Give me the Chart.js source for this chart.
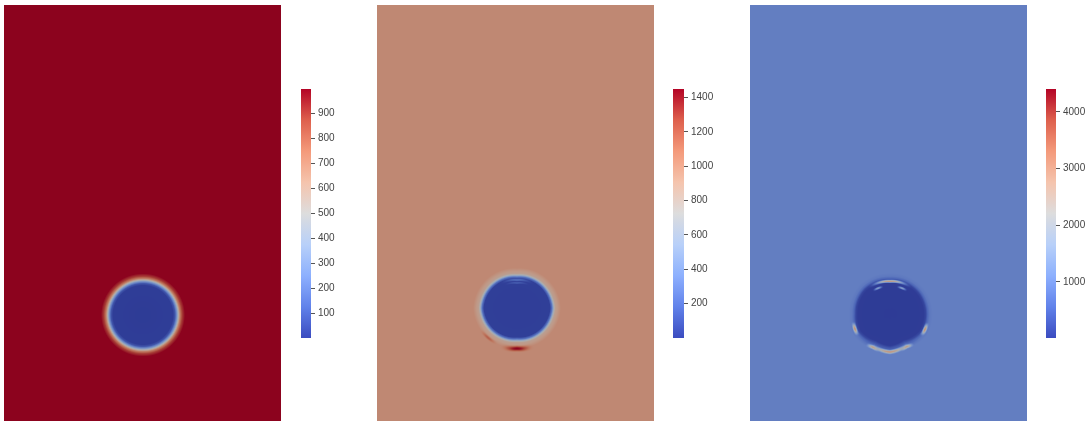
<!DOCTYPE html>
<html>
<head>
<meta charset="utf-8">
<script src="https://cdn.jsdelivr.net/npm/chart.js@4.4.1/dist/chart.umd.min.js"></script>
<style>
  body { margin: 0; background: #fff; width: 1090px; height: 423px; position: relative; overflow: hidden; }
  canvas { position: absolute; }
</style>
</head>
<body>
<canvas id="field1" width="277" height="416" style="left:4px;top:5px"></canvas>
<canvas id="bar1" width="50" height="270" style="left:300px;top:80px"></canvas>
<canvas id="field2" width="277" height="416" style="left:377px;top:5px"></canvas>
<canvas id="bar2" width="56" height="270" style="left:672px;top:80px"></canvas>
<canvas id="field3" width="277" height="416" style="left:750px;top:5px"></canvas>
<canvas id="bar3" width="44" height="270" style="left:1045px;top:80px"></canvas>
<script>
// domain of every panel (same units for all three)
const domainX = [0, 2.77];
const domainY = [0, 4.16];

// colour bar ranges and tick labels
const range1 = [0, 997];
const ticks1 = [100, 200, 300, 400, 500, 600, 700, 800, 900];
const range2 = [0, 1450];
const ticks2 = [200, 400, 600, 800, 1000, 1200, 1400];
const range3 = [10, 4404];
const ticks3 = [1000, 2000, 3000, 4000];

// panel 1: bubble centre, boundary radius by angle, value across the boundary
const center1 = [1.39, 1.06];
const angles1 = [0, 90, 180, 270, 360];
const radii1 = [0.34, 0.335, 0.34, 0.335, 0.34];
const dist1 = [-0.4, -0.04, -0.02, 0, 0.015, 0.03, 0.05, 0.08];
const values1 = [0, 5, 80, 300, 520, 730, 890, 997];
const bands1 = [];

// panel 2
const center2 = [1.40, 1.13];
const angles2 = [0, 45, 90, 135, 180, 225, 270, 315, 360];
const radii2 = [0.36, 0.34, 0.32, 0.34, 0.36, 0.34, 0.32, 0.34, 0.36];
const dist2 = [-0.4, -0.03, -0.01, 0.01, 0.025, 0.05, 0.08];
const values2 = [10, 15, 250, 700, 860, 920, 1000];
// bands: [angle, angle half-span, distance, distance half-span, peak value]
const bands2 = [
  [270, 24, 0.085, 0.04, 1450],
  [226, 16, 0.075, 0.025, 1180],
  [90, 35, -0.04, 0.02, 220],
  [90, 30, -0.07, 0.015, 150]
];

// panel 3
const center3 = [1.40, 1.07];
const angles3 = [0, 37, 90, 135, 180, 210, 243, 270, 297, 330, 360];
const radii3 = [0.367, 0.364, 0.347, 0.36, 0.35, 0.364, 0.333, 0.35, 0.326, 0.367, 0.367];
const dist3 = [-0.4, -0.03, -0.01, 0.01, 0.03, 0.06];
const values3 = [10, 20, 150, 600, 850, 930];
const bands3 = [
  [270, 70, 0.01, 0.05, 450],
  [90, 40, -0.02, 0.022, 2800],
  [65, 12, -0.07, 0.018, 1500],
  [115, 12, -0.07, 0.018, 1500],
  [203, 12, 0.02, 0.028, 2900],
  [336, 12, 0.015, 0.028, 2900],
  [270, 40, 0.03, 0.03, 2800],
  [243, 12, 0.04, 0.028, 2600],
  [297, 12, 0.04, 0.028, 2600]
];

// ParaView "Cool to Warm"
const coolWarm = [
  [0, 59, 76, 192], [0.125, 97, 130, 234], [0.25, 141, 176, 254], [0.375, 184, 208, 249],
  [0.5, 221, 221, 221], [0.625, 245, 196, 173], [0.75, 244, 154, 123], [0.875, 222, 96, 77],
  [1, 180, 4, 38]
];
const shade = 0.78;

function mapColor(t) {
  t = Math.max(0, Math.min(1, t));
  for (let i = 1; i < coolWarm.length; i++) {
    if (t <= coolWarm[i][0]) {
      const a = coolWarm[i - 1], b = coolWarm[i];
      const f = (t - a[0]) / (b[0] - a[0]);
      return [a[1] + (b[1] - a[1]) * f, a[2] + (b[2] - a[2]) * f, a[3] + (b[3] - a[3]) * f];
    }
  }
  return coolWarm[coolWarm.length - 1].slice(1);
}

function interp(xs, ys, x) {
  if (x <= xs[0]) return ys[0];
  for (let i = 1; i < xs.length; i++) {
    if (x <= xs[i]) return ys[i - 1] + (ys[i] - ys[i - 1]) * (x - xs[i - 1]) / (xs[i] - xs[i - 1]);
  }
  return ys[ys.length - 1];
}

function bump(d, w) {
  if (Math.abs(d) >= w) return 0;
  return 0.5 * (1 + Math.cos(Math.PI * d / w));
}

function fieldValue(f, x, y) {
  const dx = x - f.center[0], dy = y - f.center[1];
  const r = Math.hypot(dx, dy);
  let a = Math.atan2(dy, dx) * 180 / Math.PI;
  if (a < 0) a += 360;
  const d = r - interp(f.angles, f.radii, a);
  let v = interp(f.dist, f.values, d);
  for (const b of f.bands) {
    const da = ((a - b[0] + 540) % 360) - 180;
    const w = bump(da, b[1]) * bump(d - b[2], b[3]);
    v += (b[4] - v) * w;
  }
  return v;
}

const fieldPainter = {
  id: 'fieldPainter',
  beforeDatasetsDraw(chart, args, opts) {
    const { ctx, chartArea: area, scales } = chart;
    const w = Math.round(area.right - area.left), h = Math.round(area.bottom - area.top);
    const img = ctx.createImageData(w, h);
    const f = opts.field;
    for (let j = 0; j < h; j++) {
      const y = scales.y.getValueForPixel(area.top + j + 0.5);
      for (let i = 0; i < w; i++) {
        const x = scales.x.getValueForPixel(area.left + i + 0.5);
        const v = fieldValue(f, x, y);
        const c = mapColor((v - f.range[0]) / (f.range[1] - f.range[0]));
        const k = (j * w + i) * 4;
        img.data[k] = c[0] * shade;
        img.data[k + 1] = c[1] * shade;
        img.data[k + 2] = c[2] * shade;
        img.data[k + 3] = 255;
      }
    }
    ctx.putImageData(img, area.left, area.top);
  }
};

function makeField(id, field) {
  new Chart(document.getElementById(id), {
    type: 'scatter',
    data: { datasets: [{ data: [{ x: field.center[0], y: field.center[1] }], pointRadius: 0 }] },
    options: {
      responsive: false,
      animation: false,
      layout: { padding: 0 },
      plugins: { legend: { display: false }, tooltip: { enabled: false }, fieldPainter: { field } },
      scales: {
        x: { type: 'linear', min: domainX[0], max: domainX[1], display: false },
        y: { type: 'linear', min: domainY[0], max: domainY[1], display: false }
      }
    },
    plugins: [fieldPainter]
  });
}

function makeBar(id, range, ticks, axisWidth) {
  new Chart(document.getElementById(id), {
    type: 'bar',
    data: {
      labels: [''],
      datasets: [{
        data: [range],
        borderWidth: 0,
        barPercentage: 1,
        categoryPercentage: 1,
        backgroundColor(context) {
          const { ctx, chartArea } = context.chart;
          if (!chartArea) return '#888';
          const g = ctx.createLinearGradient(0, chartArea.bottom, 0, chartArea.top);
          for (let i = 0; i <= 32; i++) {
            const c = mapColor(i / 32);
            g.addColorStop(i / 32, `rgb(${c[0] | 0},${c[1] | 0},${c[2] | 0})`);
          }
          return g;
        }
      }]
    },
    options: {
      responsive: false,
      animation: false,
      layout: { padding: { top: 8, bottom: 12, left: 1, right: 0 } },
      plugins: { legend: { display: false }, tooltip: { enabled: false } },
      scales: {
        x: { display: false },
        y: {
          position: 'right',
          min: range[0],
          max: range[1],
          afterBuildTicks(scale) { scale.ticks = ticks.map(v => ({ value: v })); },
          afterFit(scale) { scale.width = axisWidth; },
          border: { display: false },
          grid: { drawOnChartArea: false, tickLength: 4, color: '#555' },
          ticks: {
            padding: 3,
            color: '#444',
            font: { family: 'Liberation Sans', size: 10 },
            callback: v => String(v)
          }
        }
      }
    }
  });
}

makeField('field1', { center: center1, angles: angles1, radii: radii1, dist: dist1, values: values1, bands: bands1, range: range1 });
makeField('field2', { center: center2, angles: angles2, radii: radii2, dist: dist2, values: values2, bands: bands2, range: range2 });
makeField('field3', { center: center3, angles: angles3, radii: radii3, dist: dist3, values: values3, bands: bands3, range: range3 });

makeBar('bar1', range1, ticks1, 39);
makeBar('bar2', range2, ticks2, 44);
makeBar('bar3', range3, ticks3, 33);
</script>
</body>
</html>
